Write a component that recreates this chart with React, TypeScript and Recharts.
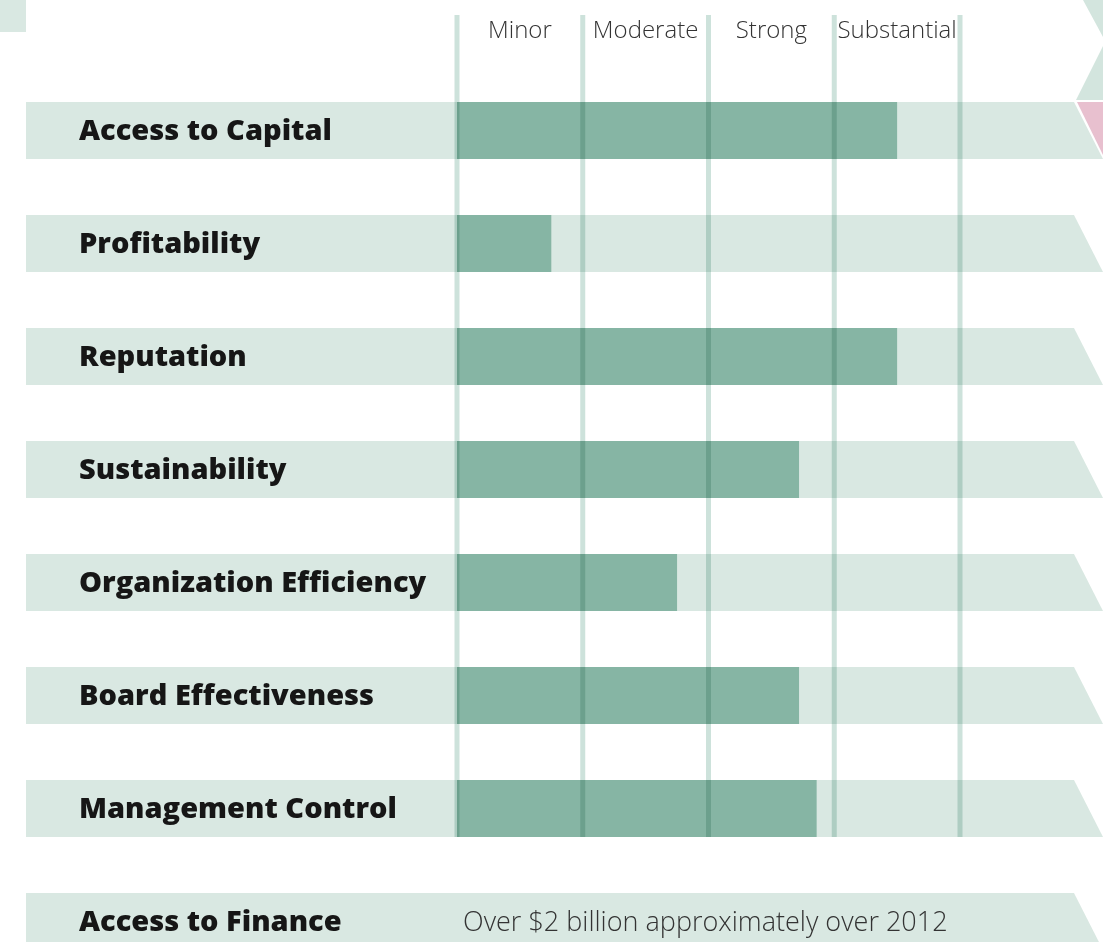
import React from "react"
import { BarChart, Bar, XAxis, YAxis, ReferenceLine } from "recharts"

const categories = [
  "Access to Capital",
  "Profitability",
  "Reputation",
  "Sustainability",
  "Organization Efficiency",
  "Board Effectiveness",
  "Management Control",
  "Access to Finance",
]
// last row carries a note instead of a rating
const impact = [3.5, 0.75, 3.5, 2.72, 1.75, 2.72, 2.86, null]
const notes = ["", "", "", "", "", "", "", "Over $2 billion approximately over 2012"]

const levelLabels = ["Minor", "Moderate", "Strong", "Substantial"]
const levelTicks = [0.5, 1.5, 2.5, 3.5]
const gridTicks = [0, 1, 2, 3, 4]

const data = categories.map((name, i) => ({ name, impact: impact[i], note: notes[i] }))

// layout
const W = 1103
const H = 978
const VIEW_H = 942
const MARGIN_LEFT = 26
const RIGHT_EXT = 143
const Y_AXIS_W = 431
const HEADER_H = 74
const BAR_SIZE = 57
const SLANT = 29
const GRID_OVERHANG = 59

const BAND = "#d9e8e2"
const BAR = "#86b5a4"
const GRID = "#cde2db"

const bandPoints = (left: number, right: number, y: number, h: number) =>
  `${left},${y} ${right - SLANT},${y} ${right},${y + h} ${left},${y + h}`

const BandShape = (props: any) => {
  const { x, y, width, height } = props
  return <polygon points={bandPoints(x - Y_AXIS_W, x + width + RIGHT_EXT, y, height)} fill={BAND} />
}

const GridLineShape = (props: any) => {
  const { x1, y1, y2 } = props
  const band = (y2 - y1) / categories.length
  const bottom = y1 + (categories.length - 1) * band - (band - BAR_SIZE) / 2
  return (
    <line
      x1={x1}
      x2={x1}
      y1={y1 - GRID_OVERHANG}
      y2={bottom}
      stroke={GRID}
      strokeWidth={5}
      style={{ mixBlendMode: "multiply" }}
    />
  )
}

const LevelTick = (props: any) => {
  const { x, payload } = props
  return (
    <text x={x} y={38} textAnchor="middle" fontFamily="Open Sans" fontWeight={300} fontSize={24} fill="#333">
      {levelLabels[levelTicks.indexOf(payload.value)]}
    </text>
  )
}

const CategoryTick = (props: any) => {
  const { y, payload } = props
  const row = data.find((d) => d.name === payload.value)
  const noteRow = row && row.impact == null
  return (
    <g>
      {noteRow ? <polygon points={bandPoints(MARGIN_LEFT, W, y - BAR_SIZE / 2, BAR_SIZE)} fill={BAND} /> : null}
      <text x={MARGIN_LEFT + 53} y={y} dy={9} fontFamily="Open Sans" fontWeight={800} fontSize={29} fill="#161616">
        {payload.value}
      </text>
      {row && row.note ? (
        <text
          x={MARGIN_LEFT + Y_AXIS_W + 6}
          y={y}
          dy={9}
          fontFamily="Open Sans"
          fontWeight={300}
          fontSize={27}
          fill="#333"
        >
          {row.note}
        </text>
      ) : null}
    </g>
  )
}

export default function App() {
  return (
    <div style={{ position: "absolute", left: 0, top: 0, width: W, height: VIEW_H, overflow: "hidden", background: "#fff" }}>
      <svg width={W} height={VIEW_H} style={{ position: "absolute", left: 0, top: 0 }}>
        <rect x={0} y={0} width={26} height={32} fill={BAND} />
        <polygon points="1083,0 1103,0 1103,37" fill="#d3e5de" />
        <polygon points="1103,46 1103,100 1076,100" fill="#d3e5de" />
        <polygon points="1077,102 1103,102 1103,155" fill="#e8c0cf" />
      </svg>
      <div style={{ position: "absolute", left: 0, top: 0 }}>
        <BarChart
          width={W}
          height={H}
          data={data}
          layout="vertical"
          margin={{ top: 0, right: RIGHT_EXT, left: MARGIN_LEFT, bottom: 0 }}
        >
          <XAxis
            type="number"
            orientation="top"
            domain={[0, 4]}
            ticks={levelTicks}
            interval={0}
            height={HEADER_H}
            axisLine={false}
            tickLine={false}
            tick={<LevelTick />}
          />
          <YAxis
            type="category"
            dataKey="name"
            width={Y_AXIS_W}
            interval={0}
            axisLine={false}
            tickLine={false}
            tick={<CategoryTick />}
          />
          <Bar
            dataKey="impact"
            fill={BAR}
            barSize={BAR_SIZE}
            background={<BandShape />}
            isAnimationActive={false}
          />
          {gridTicks.map((t) => (
            <ReferenceLine key={t} x={t} shape={<GridLineShape />} />
          ))}
        </BarChart>
      </div>
    </div>
  )
}
